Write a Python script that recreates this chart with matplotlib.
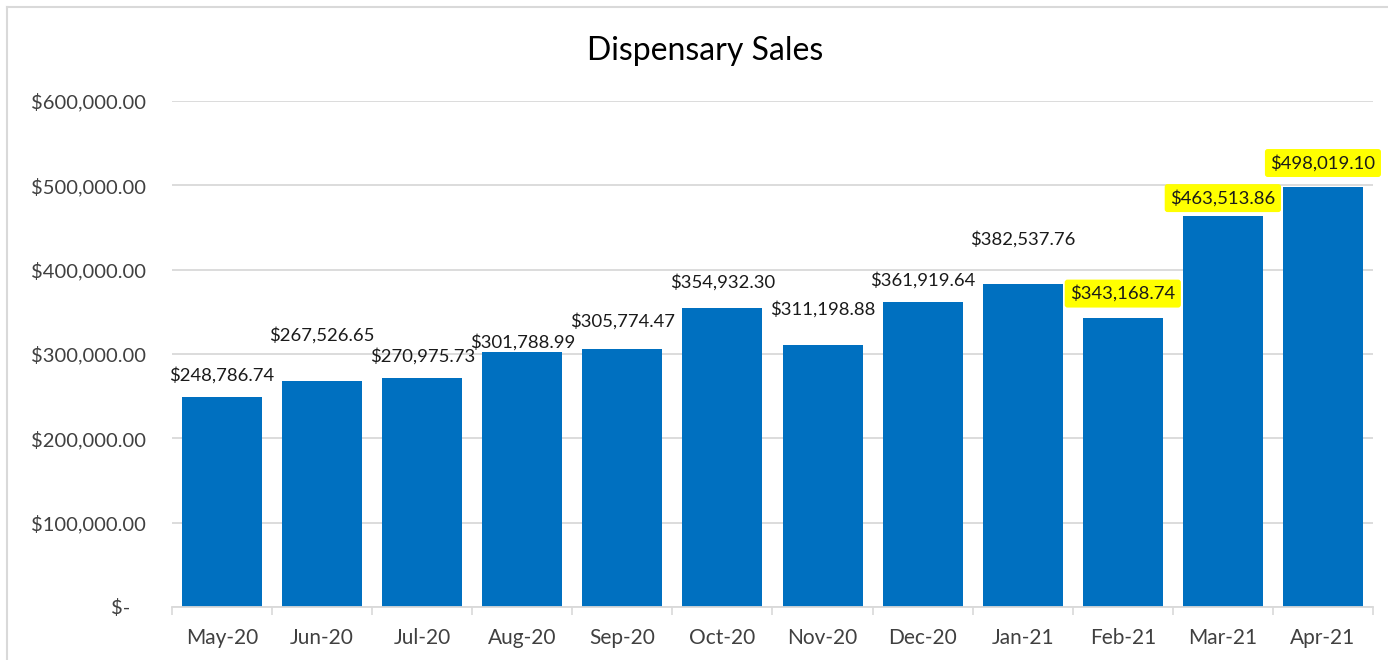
import matplotlib.pyplot as plt
from matplotlib.ticker import FuncFormatter
from matplotlib.lines import Line2D

months = ["May-20", "Jun-20", "Jul-20", "Aug-20", "Sep-20", "Oct-20",
          "Nov-20", "Dec-20", "Jan-21", "Feb-21", "Mar-21", "Apr-21"]
sales = [248786.74, 267526.65, 270975.73, 301788.99, 305774.47, 354932.30,
         311198.88, 361919.64, 382537.76, 343168.74, 463513.86, 498019.10]
highlighted = ["Feb-21", "Mar-21", "Apr-21"]
y_ticks = [0, 100000, 200000, 300000, 400000, 500000, 600000]

# labels were dragged around by hand in the original, lift above bar top in px
label_lift = [22, 46, 22, 10, 28, 25, 35, 22, 45, 24, 18, 24]

plt.rcParams['font.family'] = ['Lato', 'DejaVu Sans']
grey = '#D9D9D9'
text_c = '#404040'

fig = plt.figure(figsize=(13.88, 6.6), dpi=100)
ax = fig.add_axes([172 / 1388, 1 - 607 / 660, 1201 / 1388, 506 / 660])

x = range(len(months))
ax.bar(x, sales, width=0.8, color='#0070C0', zorder=2)

for i, (m, v) in enumerate(zip(months, sales)):
    box = None
    if m in highlighted:
        box = dict(boxstyle='round,pad=0.3,rounding_size=0.15', fc='#FFFF00', ec='none')
    ax.annotate("${:,.2f}".format(v), (i, v), xytext=(0, label_lift[i] * 0.72),
                textcoords='offset points', ha='center', va='center',
                fontsize=13.3, color='#1a1a1a', bbox=box, zorder=3)

ax.set_xlim(-0.5, len(months) - 0.5)
ax.set_ylim(0, 600000)
ax.set_yticks(y_ticks)
ax.yaxis.set_major_formatter(FuncFormatter(
    lambda v, p: "$-   " if v == 0 else "${:,.2f}".format(v)))
ax.set_xticks(list(x))
ax.set_xticklabels(months)
ax.set_xticks([i + 0.5 for i in range(-1, len(months))], minor=True)
ax.tick_params(axis='x', which='major', length=0, pad=15, labelsize=15, labelcolor=text_c)
ax.tick_params(axis='x', which='minor', length=6, width=1.2, color=grey)
ax.tick_params(axis='y', length=0, pad=19, labelsize=14.5, labelcolor=text_c)

ax.grid(axis='y', color=grey, lw=1.3, zorder=0)
for s in ['top', 'right', 'left']:
    ax.spines[s].set_visible(False)
ax.spines['bottom'].set_color(grey)
ax.spines['bottom'].set_linewidth(1.3)

fig.text(705 / 1388, 1 - 51 / 660, 'Dispensary Sales', ha='center', va='center',
         fontsize=23, color='black')

# outer chart frame (right and bottom edges are cropped off in the original)
fig.add_artist(Line2D([7 / 1388, 7 / 1388], [0, 1 - 7 / 660], color=grey, lw=1.5))
fig.add_artist(Line2D([7 / 1388, 1], [1 - 7 / 660, 1 - 7 / 660], color=grey, lw=1.5))

fig.savefig('out.png', dpi=100)
